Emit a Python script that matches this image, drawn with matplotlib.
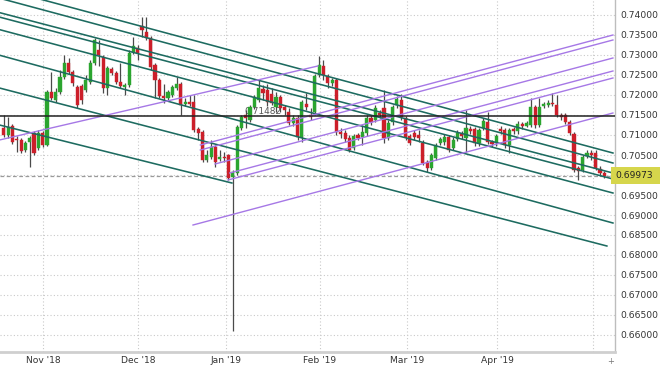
import matplotlib
matplotlib.use("Agg")
import matplotlib.pyplot as plt
from matplotlib.patches import Rectangle

# Daily candles, late Oct '18 -> early May '19 (one entry per trading day)
opens = [
    0.71175, 0.7100, 0.71225, 0.709, 0.70875, 0.70625, 0.70825, 0.7105, 0.70675, 0.7105,
    0.7075, 0.72075, 0.71875, 0.72075, 0.7245, 0.728, 0.72575, 0.722, 0.72225, 0.72125,
    0.72325, 0.728, 0.73125, 0.7295, 0.72175, 0.7265, 0.7255, 0.72325, 0.722, 0.7225,
    0.73075, 0.73175, 0.73725, 0.73575, 0.73425, 0.7275, 0.72375, 0.71975, 0.71925, 0.72,
    0.72175, 0.72275, 0.71775, 0.71825, 0.71825, 0.7115, 0.71075, 0.70375, 0.7045, 0.707,
    0.704, 0.7045, 0.705, 0.6995, 0.7005, 0.71175, 0.715, 0.71375, 0.717, 0.71875,
    0.7215, 0.72125, 0.72025, 0.717, 0.7195, 0.717, 0.71575, 0.713, 0.71425, 0.7095,
    0.71775, 0.715, 0.71575, 0.725, 0.72725, 0.72475, 0.723, 0.72375, 0.71075, 0.7105,
    0.70925, 0.70675, 0.71, 0.7095, 0.7105, 0.71425, 0.71375, 0.7155, 0.71675, 0.70925,
    0.71325, 0.7175, 0.71875, 0.71425, 0.70975, 0.7105, 0.71, 0.708, 0.70325, 0.70175,
    0.70425, 0.708, 0.70825, 0.7095, 0.70675, 0.709, 0.71025, 0.70925, 0.7115, 0.7115,
    0.708, 0.71175, 0.71325, 0.70825, 0.708, 0.7115, 0.71125, 0.7075, 0.7115, 0.711,
    0.71275, 0.71225, 0.7125, 0.717, 0.7125, 0.71725, 0.7175, 0.718, 0.7175, 0.715,
    0.715, 0.71325, 0.71025, 0.70175, 0.70125, 0.70475, 0.7055, 0.7055, 0.7015, 0.7005,
]
closes = [
    0.7100, 0.712, 0.70825, 0.70875, 0.706, 0.708, 0.70925, 0.7055, 0.7105, 0.7075,
    0.72075, 0.71925, 0.72075, 0.7245, 0.728, 0.72575, 0.723, 0.7175, 0.71875, 0.72375,
    0.728, 0.73375, 0.73, 0.72175, 0.72675, 0.7255, 0.72325, 0.72225, 0.7225, 0.7305,
    0.73225, 0.7305, 0.73625, 0.73425, 0.727, 0.72375, 0.71975, 0.71925, 0.72075, 0.722,
    0.72275, 0.7175, 0.71825, 0.71775, 0.71125, 0.7105, 0.70375, 0.705, 0.707, 0.70325,
    0.7045, 0.70425, 0.69925, 0.70075, 0.712, 0.7145, 0.71425, 0.717, 0.7195, 0.72175,
    0.7205, 0.71825, 0.718, 0.7195, 0.71675, 0.71625, 0.713, 0.71425, 0.7095, 0.71825,
    0.717, 0.7145, 0.72475, 0.7275, 0.725, 0.723, 0.72375, 0.71075, 0.71025, 0.709,
    0.70625, 0.70975, 0.70925, 0.71075, 0.71425, 0.71325, 0.71675, 0.715, 0.70925, 0.713,
    0.717, 0.719, 0.7145, 0.7095, 0.708, 0.7095, 0.70925, 0.703, 0.70175, 0.705,
    0.7075, 0.709, 0.7095, 0.70625, 0.70875, 0.7105, 0.70975, 0.71175, 0.711, 0.708,
    0.71125, 0.7135, 0.70825, 0.70775, 0.70975, 0.711, 0.7075, 0.71125, 0.711, 0.71275,
    0.71225, 0.713, 0.717, 0.7125, 0.717, 0.71775, 0.718, 0.71775, 0.715, 0.7145,
    0.71325, 0.7105, 0.70125, 0.701, 0.7045, 0.7055, 0.705, 0.70175, 0.7005, 0.69973,
]
highs = [
    0.715, 0.7145, 0.71275, 0.70975, 0.70925, 0.7085, 0.70975, 0.711, 0.71125, 0.711,
    0.72125, 0.72575, 0.72175, 0.72625, 0.73, 0.72925, 0.72625, 0.7225, 0.72275, 0.725,
    0.72875, 0.73425, 0.73375, 0.73, 0.72725, 0.727, 0.726, 0.728, 0.723, 0.73125,
    0.7345, 0.7325, 0.7395, 0.7395, 0.73475, 0.728, 0.72425, 0.72275, 0.72125, 0.7225,
    0.7245, 0.72325, 0.71925, 0.72, 0.72, 0.712, 0.71125, 0.70625, 0.70875, 0.7075,
    0.70625, 0.7057, 0.70525, 0.70125, 0.7125, 0.715, 0.71625, 0.7175, 0.72, 0.72375,
    0.7225, 0.72275, 0.72175, 0.72075, 0.72, 0.7175, 0.7167, 0.715, 0.715, 0.71875,
    0.7205, 0.71675, 0.72525, 0.72975, 0.72875, 0.72525, 0.72425, 0.72425, 0.71175, 0.71125,
    0.71, 0.71025, 0.7105, 0.7125, 0.715, 0.715, 0.7175, 0.71625, 0.72125, 0.71375,
    0.7175, 0.71975, 0.72025, 0.7147, 0.71025, 0.71125, 0.71125, 0.70875, 0.70375, 0.7055,
    0.708, 0.7095, 0.71025, 0.71, 0.7095, 0.71125, 0.711, 0.71625, 0.71225, 0.712,
    0.71175, 0.71425, 0.71575, 0.70875, 0.71025, 0.71225, 0.71175, 0.71175, 0.712, 0.7135,
    0.71325, 0.7135, 0.71925, 0.7175, 0.71925, 0.71825, 0.71875, 0.7205, 0.72, 0.7155,
    0.7155, 0.71375, 0.71075, 0.70225, 0.705, 0.70625, 0.70625, 0.70625, 0.70225, 0.701,
]
lows = [
    0.7095, 0.70925, 0.70775, 0.70575, 0.7055, 0.70575, 0.702, 0.705, 0.70625, 0.707,
    0.70725, 0.71875, 0.71825, 0.72025, 0.724, 0.72525, 0.72225, 0.71675, 0.71775, 0.72075,
    0.72275, 0.7275, 0.72725, 0.7205, 0.72, 0.725, 0.72275, 0.72175, 0.72, 0.722,
    0.73025, 0.72875, 0.7345, 0.73375, 0.72625, 0.71925, 0.71925, 0.718, 0.71875, 0.7195,
    0.72125, 0.715, 0.71725, 0.71725, 0.71075, 0.70875, 0.70325, 0.70325, 0.704, 0.702,
    0.7035, 0.70325, 0.69875, 0.661, 0.7, 0.71125, 0.71175, 0.71325, 0.7165, 0.71825,
    0.71875, 0.71725, 0.7175, 0.71575, 0.71575, 0.715, 0.7125, 0.71225, 0.70875, 0.70825,
    0.71625, 0.71375, 0.715, 0.7245, 0.72375, 0.72175, 0.72225, 0.71, 0.70925, 0.70825,
    0.70575, 0.70625, 0.70875, 0.7075, 0.70975, 0.7125, 0.71325, 0.71425, 0.708, 0.70875,
    0.7125, 0.71675, 0.71375, 0.70875, 0.7075, 0.70875, 0.70825, 0.7025, 0.70075, 0.70125,
    0.70375, 0.7075, 0.7075, 0.70575, 0.70625, 0.7085, 0.709, 0.70575, 0.71025, 0.70725,
    0.70725, 0.71125, 0.70775, 0.707, 0.70725, 0.71025, 0.70675, 0.7055, 0.71025, 0.71025,
    0.7115, 0.712, 0.712, 0.71175, 0.712, 0.71675, 0.717, 0.71725, 0.7145, 0.71375,
    0.71275, 0.71, 0.70075, 0.69875, 0.70075, 0.70425, 0.70375, 0.70125, 0.6998, 0.69925,
]

month_labels = ["Nov '18", "Dec '18", "Jan '19", "Feb '19", "Mar '19", "Apr '19", ""]
price_ticks = [0.660, 0.665, 0.670, 0.675, 0.680, 0.685, 0.690, 0.695, 0.700,
               0.705, 0.710, 0.715, 0.720, 0.725, 0.730, 0.735, 0.740]

# horizontal level and last price
level_price = 0.71482
last_price = 0.69973

# drawn trendlines: (start day, start price, end day, end price)
down_lines = [
    (-1, 0.74670, 141, 0.70550),
    (-1, 0.74420, 141, 0.70300),
    (-1, 0.74060, 141, 0.70050),
    (-1, 0.73948, 141, 0.69900),
    (-1, 0.73635, 141, 0.69550),
    (-1, 0.72995, 141, 0.68800),
    (-1, 0.72175, 139.6, 0.68225),
    (-1, 0.71250, 52.8, 0.69800),
]
up_lines = [
    (-1, 0.70875, 72.7, 0.72725),
    (45.5, 0.70750, 141, 0.73500),
    (45.5, 0.70625, 141, 0.73375),
    (48.9, 0.70275, 141, 0.72925),
    (52.3, 0.70050, 141, 0.72600),
    (51.9, 0.69875, 141, 0.72425),
    (43.8, 0.68750, 141, 0.71550),
]

# month boundaries on the day axis (where the chart puts its dotted verticals)
month_pos = [9.07, 31.06, 51.44, 73.2, 93.3, 114.2, 136.4]

UP, DOWN = "#2ba52f", "#cc1f2a"
TEAL, PURPLE = "#1d6b60", "#a678e6"
TXT = "#333333"

plt.rcParams["font.family"] = ["DejaVu Sans"]

fig = plt.figure(figsize=(6.6, 3.65), dpi=100)
ax = fig.add_axes([0.0, 13 / 365, 615 / 660, 352 / 365])

# grid
for p in price_ticks:
    ax.axhline(p, color="#c9c9c9", lw=0.8, ls=(0, (1, 2)), zorder=0)
for m in month_pos:
    ax.axvline(m, color="#c9c9c9", lw=0.8, ls=(0, (1, 2)), zorder=0)

ax.text(55.8, level_price + 0.0011, "0.71482", fontsize=6.5, color="#555555",
        va="center", ha="left", zorder=1)

# candles
for i, (o, h, l, c) in enumerate(zip(opens, highs, lows, closes)):
    col = UP if c >= o else DOWN
    ax.plot([i, i], [l, h], color="#4a4a4a", lw=0.9, zorder=2, solid_capstyle="butt")
    body = max(abs(c - o), 0.00012)
    ax.bar(i, body, bottom=min(o, c), width=0.72, color=col, edgecolor=col,
           linewidth=0.3, zorder=2.5)

# trendlines
for x0, y0, x1, y1 in down_lines:
    ax.plot([x0, x1], [y0, y1], color=TEAL, lw=1.15, zorder=3)
for x0, y0, x1, y1 in up_lines:
    ax.plot([x0, x1], [y0, y1], color=PURPLE, lw=1.0, zorder=3)

ax.axhline(level_price, color="#222222", lw=1.1, zorder=3.5)
ax.axhline(last_price, color="#9a9a9a", lw=0.9, ls=(0, (3, 2)), zorder=1)

ax.set_xlim(-0.88, 141.48)
ax.set_ylim(0.65575, 0.74375)

# axes styling
for side in ["top", "left"]:
    ax.spines[side].set_visible(False)
ax.spines["right"].set_color("#bdbdbd")
ax.spines["right"].set_linewidth(1.0)
ax.spines["bottom"].set_color("#cfcfcf")
ax.spines["bottom"].set_linewidth(2.0)

ax.yaxis.tick_right()
ax.set_yticks(price_ticks)
ax.set_yticklabels(["" if abs(p - 0.700) < 1e-9 else f"{p:.5f}" for p in price_ticks])
ax.tick_params(axis="y", length=0, pad=4, labelsize=6.6, labelcolor=TXT)
ax.set_xticks(month_pos)
ax.set_xticklabels(month_labels)
ax.tick_params(axis="x", length=0, pad=3, labelsize=6.6, labelcolor=TXT)

# last-price tag on the right axis
fig.patches.append(Rectangle((611 / 660, 1 - 184 / 365), 49 / 660, 17 / 365,
                             transform=fig.transFigure, facecolor="#d6d64c",
                             edgecolor="none", zorder=5))
fig.text(615 / 660, 1 - 175.5 / 365, f"{last_price:.5f}", fontsize=6.6, color="#222222",
         va="center", ha="left", zorder=6)
fig.text(611 / 660, 1 - 362 / 365, "+", fontsize=6, color="#777777", va="center", ha="center")

fig.savefig("out.png", dpi=100)
